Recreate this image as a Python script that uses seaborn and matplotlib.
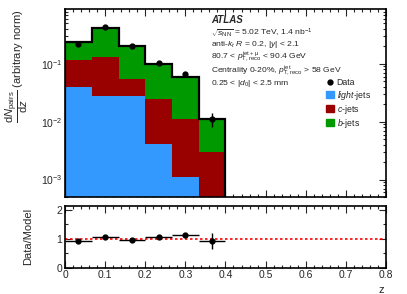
import numpy as np
import pandas as pd
import matplotlib
matplotlib.use("Agg")
import matplotlib.pyplot as plt
import seaborn as sns
from matplotlib.patches import Patch
from matplotlib.lines import Line2D
from matplotlib.ticker import MultipleLocator, LogLocator, NullFormatter

# bin edges in z (6 bins of width 1/15)
z_edges = [0.0, 0.0667, 0.1333, 0.2, 0.2667, 0.3333, 0.4]

# template contributions (stacked)
light_jets = [0.039, 0.028, 0.028, 0.0041, 0.0011, 0.0]
c_jets = [0.075, 0.103, 0.0275, 0.021, 0.0101, 0.003]
b_jets = [0.126, 0.279, 0.150, 0.075, 0.049, 0.008]

# data
data_vals = [0.22, 0.43, 0.20, 0.105, 0.067, 0.011]
data_err = [0.006, 0.01, 0.006, 0.004, 0.004, 0.003]

# ratio data / model
ratio_vals = [0.92, 1.06, 0.96, 1.06, 1.13, 0.94]
ratio_err = [0.03, 0.03, 0.03, 0.04, 0.07, 0.28]

flavours = ["b-jets", "c-jets", "light-jets"]
colors = {"light-jets": "#3399ff", "c-jets": "#990000", "b-jets": "#009900"}

edges = np.array(z_edges)
centers = 0.5 * (edges[:-1] + edges[1:])
halfw = 0.5 * np.diff(edges)

df = pd.DataFrame({
    "z": np.tile(centers, 3),
    "w": light_jets + c_jets + b_jets,
    "flavour": ["light-jets"] * 6 + ["c-jets"] * 6 + ["b-jets"] * 6,
})
total = np.array(light_jets) + np.array(c_jets) + np.array(b_jets)

sns.set_theme(style="ticks")
plt.rcParams["font.family"] = ["Liberation Sans", "DejaVu Sans"]
plt.rcParams["mathtext.fontset"] = "custom"
plt.rcParams["mathtext.rm"] = "Liberation Sans"
plt.rcParams["mathtext.it"] = "Liberation Sans:italic"
plt.rcParams["mathtext.bf"] = "Liberation Sans:bold"

fig = plt.figure(figsize=(4.07, 2.94), dpi=100)
ax = fig.add_axes([0.160, 0.330, 0.788, 0.638])
ax2 = fig.add_axes([0.160, 0.090, 0.788, 0.210])

sns.histplot(data=df, x="z", weights="w", hue="flavour", hue_order=flavours,
             multiple="stack", bins=z_edges, palette=colors, alpha=1,
             linewidth=0, legend=False, ax=ax)
ax.stairs(total, edges, color="black", lw=1.6)
ax.errorbar(centers, data_vals, yerr=data_err, fmt="o", color="black",
            ms=3.5, elinewidth=1, capsize=0)

ax.set_yscale("log")
ax.set_xlim(0, 0.8)
ax.set_ylim(5e-4, 0.87)
ax.set_xlabel("")
ax.set_ylabel(r"$\dfrac{\mathrm{d}N_{\mathrm{pairs}}}{\mathrm{d}z}$ (arbitrary norm)",
              fontsize=8, loc="top")
ax.xaxis.set_major_locator(MultipleLocator(0.1))
ax.xaxis.set_minor_locator(MultipleLocator(0.02))
ax.xaxis.set_major_formatter(NullFormatter())
ax.yaxis.set_minor_locator(LogLocator(base=10, subs=np.arange(2, 10)))
ax.yaxis.set_minor_formatter(NullFormatter())

# text block
fs = 6.1
tx = 0.455
lines = [
    r"$\sqrt{s_{\mathrm{NN}}}$ = 5.02 TeV, 1.4 nb$^{-1}$",
    r"anti-$k_{t}$ $R$ = 0.2, |$y$| < 2.1",
    r"80.7 < $p_{\mathrm{T,reco}}^{\mathrm{jet+\mu}}$ < 90.4 GeV",
    r"Centrality 0-20%, $p_{\mathrm{T,reco}}^{\mathrm{jet}}$ > 58 GeV",
    r"0.25 < |$d_{0}$| < 2.5 mm",
]
ypos = [0.876, 0.813, 0.745, 0.670, 0.606]
ax.text(tx, 0.942, "ATLAS", transform=ax.transAxes, fontsize=7,
        fontweight="bold", fontstyle="italic", va="center")
for s, yy in zip(lines, ypos):
    ax.text(tx, yy, s, transform=ax.transAxes, fontsize=fs, va="center")

handles = [
    Line2D([], [], marker="o", color="black", ls="none", ms=3.5),
    Patch(color=colors["light-jets"]),
    Patch(color=colors["c-jets"]),
    Patch(color=colors["b-jets"]),
]
labels = ["Data", r"$\it{light}$-jets", r"$\it{c}$-jets", r"$\it{b}$-jets"]
ax.legend(handles, labels, loc="upper left", bbox_to_anchor=(0.80, 0.655),
          frameon=False, fontsize=6.3, handlelength=0.9, handleheight=0.9,
          handletextpad=0.3, labelspacing=0.12, borderpad=0)

# ratio panel
ax2.axhline(1, color="red", ls=(0, (1.5, 1.5)), lw=1.2)
ax2.errorbar(centers, ratio_vals, xerr=halfw, yerr=ratio_err, fmt="o",
             color="black", ms=3.5, elinewidth=1, capsize=0)
ax2.set_xlim(0, 0.8)
ax2.set_ylim(0, 2.15)
ax2.xaxis.set_major_locator(MultipleLocator(0.1))
ax2.xaxis.set_minor_locator(MultipleLocator(0.02))
ax2.yaxis.set_major_locator(MultipleLocator(1))
ax2.yaxis.set_minor_locator(MultipleLocator(0.5))
ax2.xaxis.set_major_formatter(plt.FuncFormatter(lambda v, p: "0" if v == 0 else f"{v:.1f}"))
ax2.set_ylabel("Data/Model", fontsize=8)
ax2.set_xlabel("z", fontsize=8, loc="right")
ax2.xaxis.label.set_va("center")
ax2.xaxis.set_label_coords(0.995, -0.36)
ax2.yaxis.set_label_coords(-0.1, 0.5)

for a in (ax, ax2):
    a.tick_params(which="both", direction="in", top=True, right=True,
                  labelsize=7.5, pad=2)
    a.tick_params(which="major", length=5, width=0.8)
    a.tick_params(which="minor", length=2.5, width=0.8)
    for sp in a.spines.values():
        sp.set_linewidth(1.2)
        sp.set_color("black")
ax.yaxis.set_label_coords(-0.11, 1.0)

fig.savefig("out.png", dpi=100)
